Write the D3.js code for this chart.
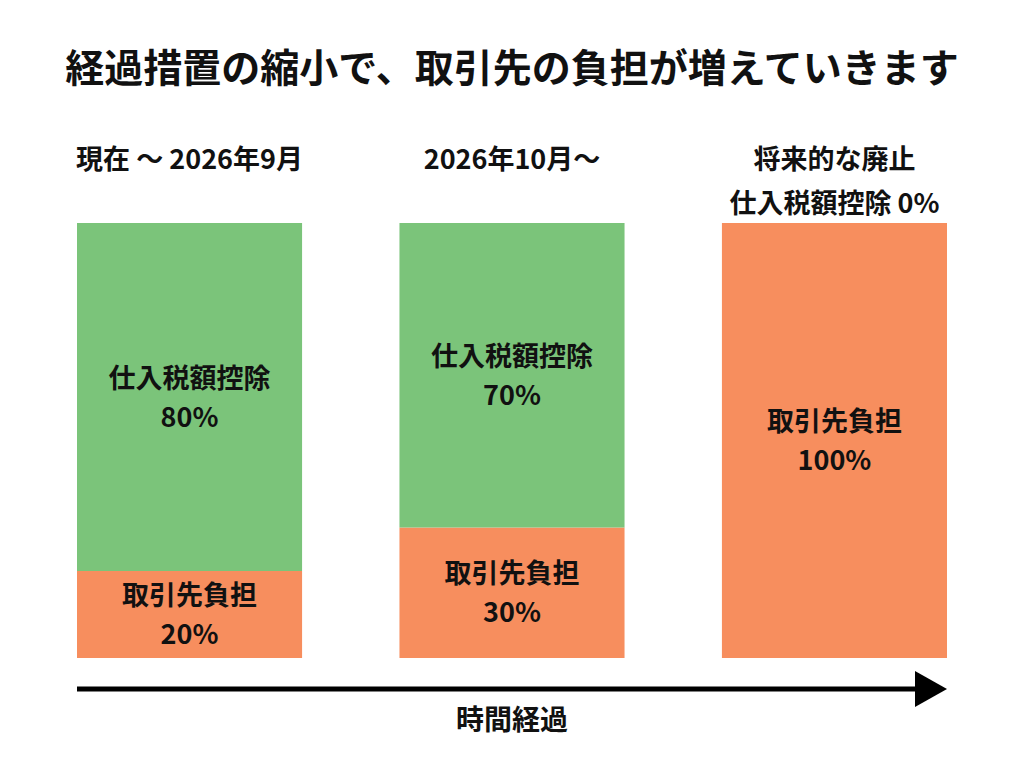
<!DOCTYPE html>
<html>
<head>
<meta charset="utf-8">
<script src="https://cdn.jsdelivr.net/npm/d3@7"></script>
<style>
  body { margin: 0; background: #fff; }
  text { font-family: "Noto Sans CJK JP", "Noto Sans", sans-serif; font-weight: 700; fill: #111; }
</style>
</head>
<body>
<div id="chart"></div>
<script>
// periods (column headers, can be multi-line)
var periods = ["現在 ～ 2026年9月", "2026年10月～", "将来的な廃止\n仕入税額控除 0%"];
// share that is still deductible (green) and share borne by the supplier (orange)
var deductible = [80, 70, 0];
var burden = [20, 30, 100];
var deductLabel = "仕入税額控除";
var burdenLabel = "取引先負担";
var title = "経過措置の縮小で、取引先の負担が増えていきます";
var axisLabel = "時間経過";

var colors = { deduct: "#7bc47a", burden: "#f78e5e" };

var W = 1024, H = 765;
var margin = { top: 223, right: 77, bottom: 107, left: 77 };

var svg = d3.select("#chart").append("svg")
    .attr("width", W)
    .attr("height", H);

var xScale = d3.scaleBand()
    .domain(periods)
    .range([margin.left, W - margin.right])
    .paddingInner(0.302)
    .paddingOuter(0);

var yScale = d3.scaleLinear()
    .domain([0, 100])
    .range([H - margin.bottom, margin.top]);

// build stacked rows: burden at bottom, deductible on top
var rows = periods.map(function(p, i) {
    return { period: p, burden: burden[i], deduct: deductible[i] };
});
var stack = d3.stack().keys(["burden", "deduct"])(rows);

// title
svg.append("text")
    .attr("x", W / 2)
    .attr("y", 68)
    .attr("dy", "0.35em")
    .attr("text-anchor", "middle")
    .style("font-size", "39px")
    .text(title);

// column headers
var headers = svg.selectAll(".header")
    .data(periods)
    .enter().append("text")
    .attr("class", "header")
    .attr("text-anchor", "middle")
    .style("font-size", "27px")
    .attr("x", function(p) { return xScale(p) + xScale.bandwidth() / 2; })
    .attr("y", 160);

headers.selectAll("tspan")
    .data(function(p) { return p.split("\n"); })
    .enter().append("tspan")
    .attr("x", function() { return d3.select(this.parentNode).attr("x"); })
    .attr("dy", function(d, i) { return i === 0 ? "0.35em" : "1.6em"; })
    .text(function(d) { return d; });

// bars
var layers = svg.selectAll(".layer")
    .data(stack)
    .enter().append("g")
    .attr("class", "layer")
    .style("fill", function(s) { return colors[s.key]; });

layers.selectAll("rect")
    .data(function(s) { return s; })
    .enter().append("rect")
    .attr("x", function(d) { return xScale(d.data.period); })
    .attr("width", xScale.bandwidth())
    .attr("y", function(d) { return yScale(d[1]); })
    .attr("height", function(d) { return yScale(d[0]) - yScale(d[1]); });

// segment labels
stack.forEach(function(s) {
    var name = s.key === "deduct" ? deductLabel : burdenLabel;
    s.forEach(function(d) {
        var v = d[1] - d[0];
        if (v <= 0) return;
        var cx = xScale(d.data.period) + xScale.bandwidth() / 2;
        var cy = (yScale(d[0]) + yScale(d[1])) / 2;
        var t = svg.append("text")
            .attr("text-anchor", "middle")
            .style("font-size", "27px")
            .attr("x", cx)
            .attr("y", cy);
        t.append("tspan").attr("x", cx).attr("dy", "-0.35em").text(name);
        t.append("tspan").attr("x", cx).attr("dy", "1.45em").text(v + "%");
    });
});

// time arrow
var arrowY = 689;
var x0 = margin.left, x1 = W - margin.right;
svg.append("line")
    .attr("x1", x0)
    .attr("x2", x1 - 30)
    .attr("y1", arrowY)
    .attr("y2", arrowY)
    .style("stroke", "#000")
    .style("stroke-width", 5);

svg.append("path")
    .attr("d", "M" + (x1 - 32) + "," + (arrowY - 18) + "L" + x1 + "," + arrowY + "L" + (x1 - 32) + "," + (arrowY + 18) + "Z")
    .style("fill", "#000");

svg.append("text")
    .attr("x", W / 2)
    .attr("y", 720)
    .attr("dy", "0.35em")
    .attr("text-anchor", "middle")
    .style("font-size", "28px")
    .text(axisLabel);
</script>
</body>
</html>
